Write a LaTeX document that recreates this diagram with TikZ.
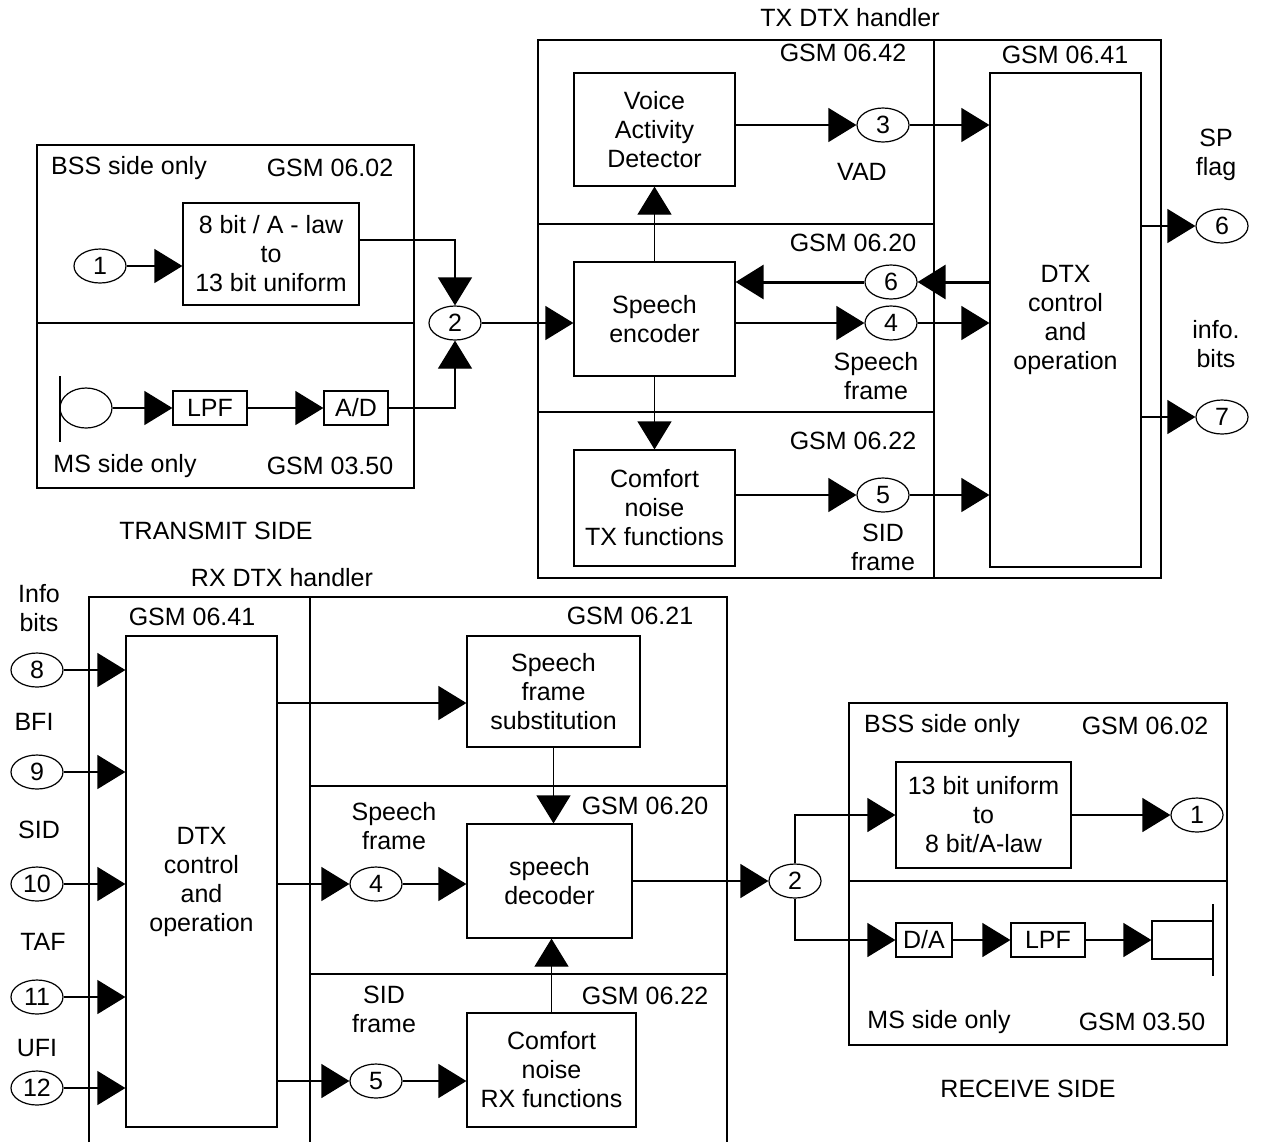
\documentclass[tikz,border=0pt]{standalone}
\usepackage{fontspec}
\setmainfont{Liberation Sans}
\usetikzlibrary{shapes.geometric, arrows.meta, positioning}

\begin{document}
\begin{tikzpicture}[
  x=0.5pt, y=-0.5pt,
  font=\fontsize{12.5pt}{14.5pt}\selectfont,
  blk/.style={rectangle, draw, line width=0.6pt, inner sep=0pt, align=center},
  num/.style={ellipse, draw, line width=0.6pt, minimum width=26pt, minimum height=17pt, inner sep=0pt},
  lbl/.style={align=center, inner sep=0pt},
  zone/.style={draw, line width=0.6pt},
  arr/.style={-{Triangle[length=14pt, width=17pt]}, line width=0.6pt},
  thickarr/.style={arr, line width=1.5pt}
]
  \useasboundingbox (0,0) rectangle (1261,1142);

  % transmit side
  \draw[zone] (37,145) rectangle (414,488);
  \draw[zone] (37,323) -- (414,323);
  \node[lbl] (bss1) at (129,168) {BSS side only};
  \node[lbl] (gsm0602a) at (330,168) {GSM 06.02};
  \node[lbl] (ms1) at (125,466) {MS side only};
  \node[lbl] (gsm0350a) at (330,466) {GSM 03.50};
  \node[lbl] (txside) at (216,531) {TRANSMIT SIDE};

  \node[blk, minimum width=88pt, minimum height=51pt] (conv1) at (271,254) {8 bit / A - law\\to\\13 bit uniform};
  \node[num] (c1) at (100,266) {1};
  \node[num] (c2) at (455,323) {2};
  \node[ellipse, draw, line width=0.6pt, minimum width=26pt, minimum height=20pt] (mic) at (86,408) {};
  \draw[line width=1pt] (60,376) -- (60,442);
  \node[blk, minimum width=37pt, minimum height=17pt] (lpf1) at (210,408) {LPF};
  \node[blk, minimum width=32pt, minimum height=17pt] (ad) at (356,408) {A/D};

  \draw[arr] (c1.east) -- (c1.east -| conv1.west);
  \draw[arr] (conv1.east |- 0,240) -| (c2.north);
  \draw[arr] (mic.east) -- (lpf1.west);
  \draw[arr] (lpf1.east) -- (ad.west);
  \draw[arr] (ad.east) -| (c2.south);

  % TX DTX handler
  \node[lbl] (txtitle) at (850,18) {TX DTX handler};
  \draw[zone] (538,40) rectangle (1161,578);
  \draw[zone] (934,40) -- (934,578);
  \draw[zone] (538,224) -- (934,224);
  \draw[zone] (538,412) -- (934,412);
  \node[lbl] (gsm0642) at (843,53) {GSM 06.42};
  \node[lbl] (gsm0641a) at (1065,55) {GSM 06.41};
  \node[lbl] (gsm0620a) at (853,243) {GSM 06.20};
  \node[lbl] (gsm0622a) at (853,441) {GSM 06.22};

  \node[blk, minimum width=80.5pt, minimum height=56.5pt] (vad) at (654.5,129.5) {Voice\\Activity\\Detector};
  \node[blk, minimum width=80.5pt, minimum height=57pt] (enc) at (654.5,319) {Speech\\encoder};
  \node[blk, minimum width=80.5pt, minimum height=58pt] (cnt) at (654.5,508) {Comfort\\noise\\TX functions};
  \node[blk, minimum width=75.5pt, minimum height=247pt] (dtx1) at (1065.5,320) {DTX\\control\\and\\operation};

  \node[num] (c3) at (883,125) {3};
  \node[lbl] (vadlbl) at (862,172) {VAD};
  \node[num] (c6a) at (891,282) {6};
  \node[num] (c4a) at (891,323) {4};
  \node[lbl] (spfr1) at (876,376) {Speech\\frame};
  \node[num] (c5a) at (883,495) {5};
  \node[lbl] (sidfr1) at (883,547) {SID\\frame};
  \node[num] (c6b) at (1222,226) {6};
  \node[lbl] (spflag) at (1216,155) {SP\\flag};
  \node[num] (c7) at (1222,417) {7};
  \node[lbl] (infob1) at (1216,344) {info.\\bits};

  \draw[arr] (c2.east) -- (c2 -| enc.west);
  \draw[arr] (enc.north) -- (vad.south);
  \draw[arr] (enc.south) -- (cnt.north);
  \draw[arr] (vad.east |- c3) -- (c3.west);
  \draw[arr] (c3.east) -- (c3 -| dtx1.west);
  \draw[thickarr] (dtx1.west |- c6a) -- (c6a.east);
  \draw[thickarr] (c6a.west) -- (c6a -| enc.east);
  \draw[arr] (enc.east |- c4a) -- (c4a.west);
  \draw[arr] (c4a.east) -- (c4a -| dtx1.west);
  \draw[arr] (cnt.east |- c5a) -- (c5a.west);
  \draw[arr] (c5a.east) -- (c5a -| dtx1.west);
  \draw[arr] (dtx1.east |- c6b) -- (c6b.west);
  \draw[arr] (dtx1.east |- c7) -- (c7.west);

  % RX DTX handler
  \node[lbl] (rxtitle) at (282,578) {RX DTX handler};
  \draw[zone] (89,1142) -- (89,597) -- (727,597) -- (727,1142);
  \draw[zone] (310,597) -- (310,1142);
  \draw[zone] (310,786) -- (727,786);
  \draw[zone] (310,974) -- (727,974);
  \node[lbl] (gsm0641b) at (192,617) {GSM 06.41};
  \node[lbl] (gsm0621) at (630,616) {GSM 06.21};
  \node[lbl] (gsm0620b) at (645,806) {GSM 06.20};
  \node[lbl] (gsm0622b) at (645,996) {GSM 06.22};

  \node[blk, minimum width=75.5pt, minimum height=245.5pt] (dtx2) at (201.5,881.5) {DTX\\control\\and\\operation};
  \node[blk, minimum width=86.5pt, minimum height=55.5pt] (subst) at (553.5,691.5) {Speech\\frame\\substitution};
  \node[blk, minimum width=82.5pt, minimum height=57pt] (dec) at (549.5,881) {speech\\decoder};
  \node[blk, minimum width=84.5pt, minimum height=57pt] (cnr) at (551.5,1070) {Comfort\\noise\\RX functions};
  \node[num] (c4b) at (376,884) {4};
  \node[lbl] (spfr2) at (394,826) {Speech\\frame};
  \node[num] (c5b) at (376,1081) {5};
  \node[lbl] (sidfr2) at (384,1009) {SID\\frame};

  \node[lbl] (infob2) at (39,608) {Info\\bits};
  \node[num] (c8) at (37,670) {8};
  \node[lbl] (bfi) at (34,722) {BFI};
  \node[num] (c9) at (37,772) {9};
  \node[lbl] (sid) at (39,830) {SID};
  \node[num] (c10) at (37,884) {10};
  \node[lbl] (taf) at (43,942) {TAF};
  \node[num] (c11) at (37,997) {11};
  \node[lbl] (ufi) at (37,1048) {UFI};
  \node[num] (c12) at (37,1088) {12};

  \draw[arr] (c8.east) -- (c8 -| dtx2.west);
  \draw[arr] (c9.east) -- (c9 -| dtx2.west);
  \draw[arr] (c10.east) -- (c10 -| dtx2.west);
  \draw[arr] (c11.east) -- (c11 -| dtx2.west);
  \draw[arr] (c12.east) -- (c12 -| dtx2.west);
  \draw[arr] (dtx2.east |- 0,703) -- (subst.west |- 0,703);
  \draw[arr] (subst.south) -- (subst.south |- dec.north);
  \draw[arr] (cnr.north) -- (cnr.north |- dec.south);
  \draw[arr] (dtx2.east |- c4b) -- (c4b.west);
  \draw[arr] (c4b.east) -- (c4b -| dec.west);
  \draw[arr] (dtx2.east |- c5b) -- (c5b.west);
  \draw[arr] (c5b.east) -- (c5b -| cnr.west);

  % receive side
  \draw[zone] (849,703) rectangle (1227,1045);
  \draw[zone] (849,881) -- (1227,881);
  \node[lbl] (bss2) at (942,726) {BSS side only};
  \node[lbl] (gsm0602b) at (1145,726) {GSM 06.02};
  \node[lbl] (ms2) at (939,1022) {MS side only};
  \node[lbl] (gsm0350b) at (1142,1022) {GSM 03.50};
  \node[lbl] (rxside) at (1028,1089) {RECEIVE SIDE};

  \node[blk, minimum width=87.5pt, minimum height=53pt] (conv2) at (983.5,815) {13 bit uniform\\to\\8 bit/A-law};
  \node[num] (c2b) at (795,881) {2};
  \node[num] (c1b) at (1197,815) {1};
  \node[blk, minimum width=28pt, minimum height=17pt] (da) at (924,940) {D/A};
  \node[blk, minimum width=37pt, minimum height=17pt] (lpf2) at (1048,940) {LPF};
  \node[blk, minimum width=30.5pt, minimum height=19pt] (spk) at (1182.5,940) {};
  \draw[line width=1pt] (1213,904) -- (1213,976);

  \draw[arr] (dec.east |- c2b) -- (c2b.west);
  \draw[arr] (c2b.north) |- (conv2.west);
  \draw[arr] (c2b.south) |- (da.west);
  \draw[arr] (conv2.east) -- (c1b.west);
  \draw[arr] (da.east) -- (lpf2.west);
  \draw[arr] (lpf2.east) -- (spk.west);
\end{tikzpicture}
\end{document}
